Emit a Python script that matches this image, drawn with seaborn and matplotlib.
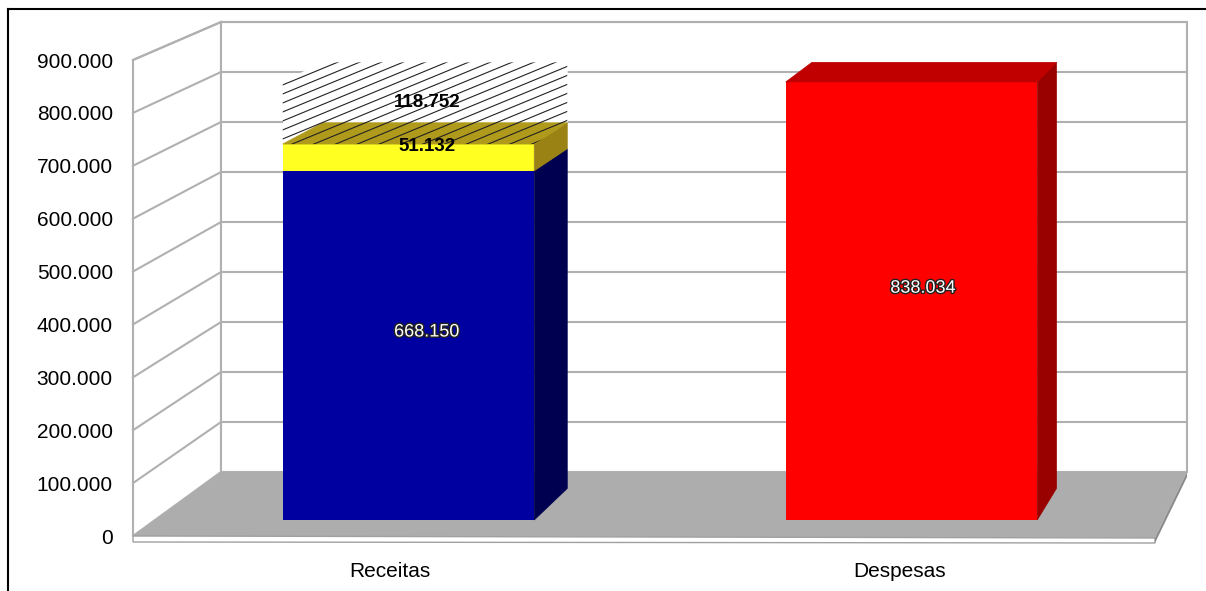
import numpy as np
import matplotlib
matplotlib.use("Agg")
import matplotlib.pyplot as plt
import matplotlib.patheffects as pe
from matplotlib.patches import Polygon
from matplotlib.collections import LineCollection
from matplotlib.ticker import FuncFormatter
from matplotlib.transforms import ScaledTranslation
import seaborn as sns

# data
categories = ["Receitas", "Despesas"]
base_values = [668150, 838034]
extra_values = [51132, 0]
gap_values = [118752, 0]
y_ticks = [0, 100000, 200000, 300000, 400000, 500000, 600000, 700000, 800000, 900000]

# colours
base_front = ["#0000A0", "#FF0000"]
base_top = ["#00006A", "#C00000"]
base_side = ["#000050", "#990000"]
yellow_front, yellow_top, yellow_side = "#FFFF22", "#B09A1C", "#9A8214"
grid_col = "#B0B0B0"

W, H = 1206, 591
plt.rcParams["font.family"] = ["Liberation Sans", "DejaVu Sans"]


def fmt(v):
    return f"{int(v):,}".replace(",", ".")


# perspective box geometry, in image pixels (y down)
FX0, FX1, BX0, BX1 = 133, 1155, 221, 1187
FZERO, FTOP, BZERO, BTOP = 536, 60, 472, 22


def front_y(v):
    return FZERO - (FZERO - FTOP) * v / y_ticks[-1]


def back_y(v):
    return BZERO - (BZERO - BTOP) * v / y_ticks[-1]


def offset(x, y, depth=0.5):
    # how far the back of a bar sits from its front face
    return depth * (88 - 0.0548 * (x - FX0)), -depth * (38 + 0.0546 * (y - FTOP))


fig = plt.figure(figsize=(W / 100, H / 100), dpi=100)

# background: walls, floor, frame
bg = fig.add_axes([0, 0, 1, 1])
bg.set_xlim(0, W)
bg.set_ylim(H, 0)
bg.axis("off")
bg.set_zorder(0)

bg.add_patch(Polygon([(FX0, FZERO), (FX0, FTOP), (BX0, BTOP), (BX0, BZERO)],
                     facecolor="white", edgecolor=grid_col, lw=1.5))
bg.add_patch(Polygon([(BX0, BZERO), (BX0, BTOP), (BX1, BTOP), (BX1, BZERO)],
                     facecolor="white", edgecolor=grid_col, lw=1.5))
for v in y_ticks[1:]:
    bg.plot([FX0, BX0, BX1], [front_y(v), back_y(v), back_y(v)], color=grid_col, lw=1.5)

bg.add_patch(Polygon([(FX0, FZERO), (FX1, FZERO + 2), (BX1, BZERO), (BX0, BZERO)],
                     facecolor="#ADADAD", edgecolor="none"))
bg.add_patch(Polygon([(FX0, FZERO), (FX1, FZERO + 2), (FX1, FZERO + 7), (FX0, FZERO + 6)],
                     facecolor="white", edgecolor="#A0A0A0", lw=1))
bg.add_patch(Polygon([(FX1, FZERO + 2), (BX1, BZERO), (BX1, BZERO + 5), (FX1, FZERO + 7)],
                     facecolor="#8A8A8A", edgecolor="none"))

bg.plot([8, 8], [H, 9], color="black", lw=1.5)
bg.plot([8, W], [9, 9], color="black", lw=1.5)

# y tick labels on the front plane
fa = fig.add_axes([FX0 / W, (H - FZERO) / H, 0.01, (FZERO - FTOP) / H])
fa.set_ylim(0, y_ticks[-1])
fa.set_yticks(y_ticks)
fa.yaxis.set_major_formatter(FuncFormatter(lambda v, p: fmt(v)))
fa.set_xticks([])
fa.tick_params(axis="y", length=0, pad=14.5, labelsize=15)
for s in fa.spines.values():
    s.set_visible(False)
fa.patch.set_alpha(0)
fa.set_zorder(1)

# bars (front faces)
bar_top, bar_zero = 49.6, 520
ax = fig.add_axes([FX0 / W, (H - bar_zero) / H, (FX1 - FX0) / W, (bar_zero - bar_top) / H])
ax.patch.set_alpha(0)
ax.set_zorder(2)

lower = np.array(base_values) + np.array(extra_values)
sns.barplot(x=categories, y=base_values, color=base_front[0], width=0.5, saturation=1,
            errorbar=None, ax=ax, linewidth=0)
for p, c in zip(ax.patches, base_front):
    p.set_facecolor(c)
sns.barplot(x=categories, y=extra_values, bottom=base_values, color=yellow_front, saturation=1,
            width=0.5, errorbar=None, ax=ax, linewidth=0)
sns.barplot(x=categories, y=gap_values, bottom=lower, color="white", saturation=1,
            width=0.5, errorbar=None, ax=ax, linewidth=0)

ax.set_xlim(-0.5477, 1.4841)
ax.set_ylim(0, y_ticks[-1])
ax.set_yticks([])
ax.set_ylabel("")
ax.set_xlabel("")
ax.set_xticks(range(len(categories)))
ax.set_xticklabels(categories)
ax.tick_params(axis="x", length=0, pad=30, labelsize=15)
for s in ax.spines.values():
    s.set_visible(False)
for lab, shift in zip(ax.get_xticklabels(), [-19, -12]):
    lab.set_transform(lab.get_transform() + ScaledTranslation(shift / 100, 0, fig.dpi_scale_trans))

# overlay for the value labels
top = fig.add_axes([0, 0, 1, 1])
top.set_xlim(0, W)
top.set_ylim(H, 0)
top.axis("off")
top.set_zorder(3)


def px(x, v):
    d = ax.transData.transform((x, v))
    return d[0], H - d[1]


def face(pts, color, z):
    ax.add_patch(Polygon(pts, closed=True, facecolor=color, edgecolor=color, lw=0.5,
                         transform=bg.transData, clip_on=False, zorder=z))


def box(i, v0, v1, top_c, side_c, z, draw_top=True):
    x0, yb = px(i - 0.25, v0)
    x1, yt = px(i + 0.25, v1)
    corners = {}
    for name, (x, y) in {"lt": (x0, yt), "rt": (x1, yt), "rb": (x1, yb)}.items():
        dx, dy = offset(x, y)
        corners[name] = (x + dx, y + dy)
    face([(x1, yb), (x1, yt), corners["rt"], corners["rb"]], side_c, z)
    if draw_top:
        face([(x0, yt), (x1, yt), corners["rt"], corners["lt"]], top_c, z)
    return x0, yb, x1, yt, corners


def label(i, v0, v1, text, white):
    x0, yb = px(i - 0.25, v0)
    x1, yt = px(i + 0.25, v1)
    cx, cy = (x0 + x1) / 2, (yb + yt) / 2
    dx, dy = offset(cx, cy)
    cx, cy = cx + dx / 2, cy + dy / 2
    if white:
        top.text(cx, cy, text, ha="center", va="center", fontsize=13, color="white",
                 path_effects=[pe.withStroke(linewidth=2, foreground="#202020")])
    else:
        top.text(cx, cy, text, ha="center", va="center", fontsize=13.5, color="black",
                 fontweight="bold")


for i in range(len(categories)):
    b, e, g = base_values[i], extra_values[i], gap_values[i]
    if g > 0:
        x0, yb, x1, yt, c = box(i, b + e, b + e + g, "white", "white", 3)
    box(i, 0, b, base_top[i], base_side[i], 4, draw_top=(e == 0 and g == 0))
    if e > 0:
        box(i, b, b + e, yellow_top, yellow_side, 5)
    if g > 0:
        # diagonal hatching over the front, top and side of the gap box
        hexagon = [(x0, yb), (x0, yt), c["lt"], c["rt"], c["rb"], (x1, yb)]
        span = c["rt"][0] - x0 + 10
        segs = [[(x0 - 5, y0), (x0 + span, y0 - 0.42 * span)]
                for y0 in np.arange(yt - 40, yb + 130, 9.0)]
        lc = LineCollection(segs, colors="#222222", linewidths=0.8,
                            transform=bg.transData, zorder=6)
        ax.add_collection(lc)
        lc.set_clip_path(Polygon(hexagon, closed=True, transform=bg.transData))

    label(i, 0, b, fmt(b), True)
    if e > 0:
        label(i, b, b + e, fmt(e), False)
    if g > 0:
        label(i, b + e, b + e + g, fmt(g), False)

fig.savefig("out.png", dpi=100)
